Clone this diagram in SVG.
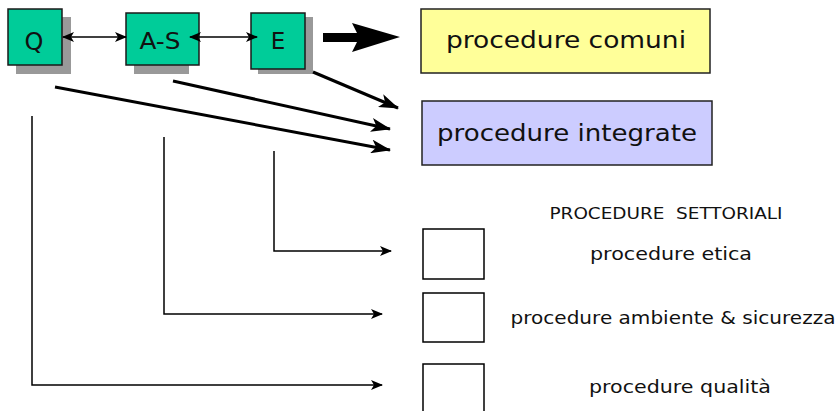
<svg xmlns="http://www.w3.org/2000/svg" width="836" height="411" viewBox="0 0 836 411">
<defs>
<style>
.node{fill:#00CC99;stroke:#1a1a1a;stroke-width:1.5}
.shadow{fill:#999999}
.t{font-family:"DejaVu Sans","Liberation Sans",sans-serif;fill:#111}
.thin{stroke:#000;stroke-width:1.5;fill:none}
.diag{stroke:#000;stroke-width:3;fill:none}
.box{fill:#fff;stroke:#000;stroke-width:1.5}
</style>
<marker id="ah" viewBox="0 0 12 10" refX="11" refY="5" markerWidth="12" markerHeight="10" markerUnits="userSpaceOnUse" orient="auto-start-reverse">
<path d="M0,0 L12,5 L0,10 L3,5 Z" fill="#000"/>
</marker>
<marker id="ahb" viewBox="0 0 20 14" refX="19" refY="7" markerWidth="20" markerHeight="14" markerUnits="userSpaceOnUse" orient="auto">
<path d="M0,0 L20,7 L0,14 L5,7 Z" fill="#000"/>
</marker>
</defs>
<g id="node-Q">
<rect class="shadow" x="16" y="17" width="55" height="57"/>
<rect class="node" x="8" y="9" width="54" height="56"/>
<text class="t" x="34" y="50" font-size="24" text-anchor="middle">Q</text>
</g>
<g id="node-AS">
<rect class="shadow" x="134" y="21" width="55" height="53"/>
<rect class="node" x="126" y="13" width="73" height="52"/>
<text class="t" x="160" y="49" font-size="23" text-anchor="middle" textLength="41" lengthAdjust="spacingAndGlyphs">A-S</text>
</g>
<g id="node-E">
<rect class="shadow" x="258" y="17" width="55" height="57"/>
<rect class="node" x="251" y="13" width="54" height="56"/>
<text class="t" x="278" y="49" font-size="23" text-anchor="middle">E</text>
</g>
<g id="node-comuni">
<rect x="421" y="9" width="289" height="64" fill="#FFFF99" stroke="#222" stroke-width="1.5"/>
<text class="t" x="566" y="48" font-size="23" text-anchor="middle" textLength="240" lengthAdjust="spacingAndGlyphs">procedure comuni</text>
</g>
<g id="node-integrate">
<rect x="422" y="101" width="290" height="64" fill="#CCCCFF" stroke="#222" stroke-width="1.5"/>
<text class="t" x="567" y="141" font-size="23" text-anchor="middle" textLength="260" lengthAdjust="spacingAndGlyphs">procedure integrate</text>
</g>
<g id="title-settoriali">
<text class="t" x="666" y="219" font-size="16" text-anchor="middle" textLength="233" lengthAdjust="spacingAndGlyphs" xml:space="preserve">PROCEDURE  SETTORIALI</text>
</g>
<g id="node-etica">
<rect class="box" x="423" y="229" width="61" height="50"/>
<text class="t" x="671" y="260" font-size="18" text-anchor="middle" textLength="162" lengthAdjust="spacingAndGlyphs">procedure etica</text>
</g>
<g id="node-ambiente">
<rect class="box" x="423" y="293" width="61" height="49"/>
<text class="t" x="673" y="324" font-size="18" text-anchor="middle" textLength="325" lengthAdjust="spacingAndGlyphs">procedure ambiente &amp; sicurezza</text>
</g>
<g id="node-qualita">
<rect class="box" x="423" y="364" width="61" height="52"/>
<text class="t" x="680" y="393" font-size="18" text-anchor="middle" textLength="182" lengthAdjust="spacingAndGlyphs">procedure qualità</text>
</g>
<g id="connectors">
<line class="thin" x1="63" y1="37" x2="126" y2="37" marker-start="url(#ah)" marker-end="url(#ah)"/>
<line class="thin" x1="190" y1="37" x2="257" y2="37" marker-start="url(#ah)" marker-end="url(#ah)"/>
<polygon points="323,33 357,33 352,23 400,37 352,52 357,42 323,42" fill="#000"/>
<line class="diag" x1="313" y1="72" x2="398" y2="108" marker-end="url(#ahb)"/>
<line class="diag" x1="173" y1="81" x2="390" y2="129" marker-end="url(#ahb)"/>
<line class="diag" x1="55" y1="87" x2="390" y2="150" marker-end="url(#ahb)"/>
<polyline class="thin" points="274,151 274,251 391,251" marker-end="url(#ah)"/>
<polyline class="thin" points="164,137 164,314 382,314" marker-end="url(#ah)"/>
<polyline class="thin" points="32,116 32,385 382,385" marker-end="url(#ah)"/>
</g>
</svg>
